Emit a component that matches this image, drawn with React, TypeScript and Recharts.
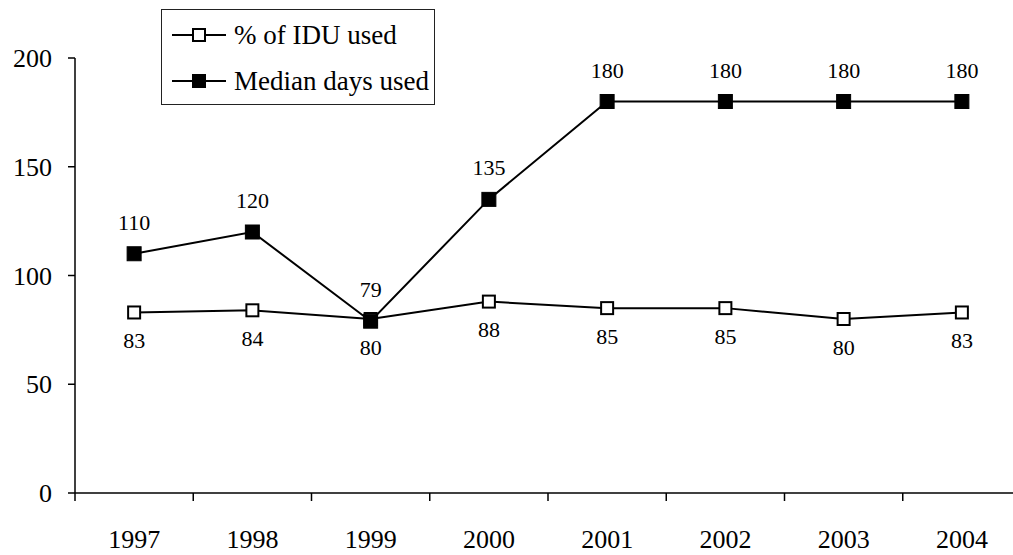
import React from "react";
import { LineChart, Line, XAxis, YAxis, Legend, LabelList } from "recharts";

const years = ["1997", "1998", "1999", "2000", "2001", "2002", "2003", "2004"];
const pctIduUsed = [83, 84, 80, 88, 85, 85, 80, 83];
const medianDaysUsed = [110, 120, 79, 135, 180, 180, 180, 180];
const yTicks = [0, 50, 100, 150, 200];

const data = years.map((year, i) => ({
  year,
  pct: pctIduUsed[i],
  median: medianDaysUsed[i],
}));

const FONT = "'Liberation Serif', 'Times New Roman', serif";

const OpenSquare = (props: any) => {
  const { cx, cy } = props;
  if (cx == null || cy == null) return null;
  return <rect x={cx - 6} y={cy - 6} width={12} height={12} fill="#fff" stroke="#000" strokeWidth={2} />;
};

const FilledSquare = (props: any) => {
  const { cx, cy } = props;
  if (cx == null || cy == null) return null;
  return <rect x={cx - 7} y={cy - 7} width={14} height={14} fill="#000" stroke="#000" strokeWidth={1} />;
};

const XTick = (props: any) => {
  const { x, y, payload } = props;
  const half = payload.offset ?? 0;
  return (
    <g>
      <line x1={x - half} x2={x - half} y1={y} y2={y + 8} stroke="#000" strokeWidth={1.5} />
      <text x={x} y={y + 55} textAnchor="middle" fontSize={26} fontFamily={FONT} fill="#000">
        {payload.value}
      </text>
    </g>
  );
};

const LegendBox = () => {
  const rows = [
    { label: "% of IDU used", filled: false, top: 10 },
    { label: "Median days used", filled: true, top: 56 },
  ];
  return (
    <div
      style={{
        width: 274,
        height: 96,
        boxSizing: "border-box",
        border: "1.5px solid #222",
        background: "#fff",
        position: "relative",
        fontFamily: FONT,
      }}
    >
      {rows.map((r) => (
        <div
          key={r.label}
          style={{ position: "absolute", left: 10, top: r.top, height: 30, display: "flex", alignItems: "center" }}
        >
          <svg width={54} height={16} style={{ display: "block" }}>
            <line x1={0} x2={54} y1={8} y2={8} stroke="#000" strokeWidth={2} />
            {r.filled ? (
              <rect x={20} y={1} width={14} height={14} fill="#000" />
            ) : (
              <rect x={21} y={2} width={12} height={12} fill="#fff" stroke="#000" strokeWidth={2} />
            )}
          </svg>
          <span style={{ marginLeft: 8, fontSize: 27, color: "#000", whiteSpace: "nowrap", lineHeight: "30px" }}>
            {r.label}
          </span>
        </div>
      ))}
    </div>
  );
};

export default function App() {
  return (
    <div
      style={{
        position: "fixed",
        left: 0,
        top: 0,
        width: 1013,
        height: 555,
        overflow: "hidden",
        background: "#fff",
      }}
    >
      <LineChart width={1021} height={555} data={data} margin={{ top: 58, right: 0, left: 0, bottom: 0 }}>
        <XAxis
          dataKey="year"
          scale="band"
          height={62}
          tickLine={false}
          tickSize={0}
          tickMargin={0}
          axisLine={{ stroke: "#000", strokeWidth: 1.5 }}
          tick={<XTick />}
          interval={0}
        />
        <YAxis
          width={75}
          domain={[0, 200]}
          ticks={yTicks}
          tickSize={7}
          tickMargin={16}
          axisLine={{ stroke: "#000", strokeWidth: 1.5 }}
          tickLine={{ stroke: "#000", strokeWidth: 1.5 }}
          tick={{ fontSize: 26, fontFamily: FONT, fill: "#000" }}
        />
        <Legend
          layout="vertical"
          align="center"
          verticalAlign="middle"
          content={<LegendBox />}
          wrapperStyle={{ left: 161, top: 9, width: 274, height: 96 }}
        />
        <Line
          dataKey="pct"
          name="% of IDU used"
          stroke="#000"
          strokeWidth={2}
          dot={<OpenSquare />}
          activeDot={false}
          isAnimationActive={false}
        >
          <LabelList dataKey="pct" position="bottom" offset={20} fontSize={22} fontFamily={FONT} fill="#000" />
        </Line>
        <Line
          dataKey="median"
          name="Median days used"
          stroke="#000"
          strokeWidth={2}
          dot={<FilledSquare />}
          activeDot={false}
          isAnimationActive={false}
        >
          <LabelList dataKey="median" position="top" offset={24} fontSize={22} fontFamily={FONT} fill="#000" />
        </Line>
      </LineChart>
    </div>
  );
}
